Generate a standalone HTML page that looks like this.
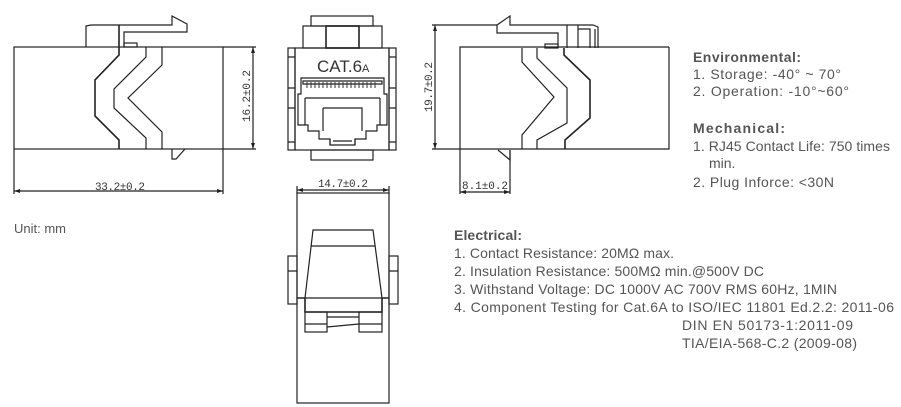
<!DOCTYPE html>
<html><head><meta charset="utf-8"><style>
html,body{margin:0;padding:0;background:#fff;}
svg{display:block;}
.l{fill:none;stroke:#222;stroke-width:1.2;}
.d{font-family:"Liberation Mono",monospace;font-size:11px;fill:#333;}
.x{font-family:"Liberation Sans",sans-serif;font-size:14px;fill:#555;}
.h{font-family:"Liberation Sans",sans-serif;font-size:14px;font-weight:bold;fill:#555;}
</style></head><body>
<svg width="901" height="407" viewBox="0 0 901 407" xmlns="http://www.w3.org/2000/svg">
<!-- LEFT VIEW -->
<g class="l">
<rect x="14" y="47" width="209" height="102"/>
<path d="M86,47 V26 L91,25 H172 V16 L187,24 V32 H124 V47"/>
<path d="M119,25 V47" style="stroke-width:1.6"/>
<rect x="124" y="43" width="13" height="4"/>
<path d="M119,47 V55 L95,80 V116 L119,140 V149" style="stroke-width:1.6"/>
<path d="M146,47 V57 L114,89 V108 L146,138 V149"/>
<path d="M162,47 V65 L128,98 L162,132 V149"/>
<path d="M172,149 V159 H176 L185,149"/>
<path d="M223,47 H256 M223,149 H256 M253,47 V149"/>
<path d="M14,149 V194 M223,149 V194 M14,191 H223"/>
</g>
<path d="M14,191 l6,-2 v4z M223,191 l-6,-2 v4z M253,47 l-2,6 h4z M253,149 l-2,-6 h4z" fill="#222"/>
<text class="d" x="95" y="190" textLength="50">33.2±0.2</text>
<text class="d" transform="translate(250,122) rotate(-90)" textLength="52">16.2±0.2</text>
<text class="x" x="14" y="233" style="font-size:13px">Unit: mm</text>

<!-- FRONT VIEW -->
<g class="l">
<rect x="311" y="16" width="62" height="10"/>
<rect x="303" y="26" width="79" height="22"/>
<rect x="326" y="26" width="33" height="22" style="stroke-width:1.6"/>
<rect x="295" y="48" width="94" height="102"/>
<rect x="288" y="48" width="7" height="102"/>
<rect x="389" y="48" width="7" height="102"/>
<path d="M288,57 H295 M288,88 H295 M288,108 H295 M288,142 H295 M389,57 H396 M389,88 H396 M389,108 H396 M389,142 H396"/>
<rect x="311" y="150" width="62" height="10"/>
<path d="M301,78 H384 V94 H387 V125 H377 V131 H366 V139 H355 V145 H330 V139 H319 V131 H308 V125 H298 V94 H301 Z"/>
<path d="M303,81 H382 V84 H303 Z"/>
<path d="M305,98 H380 M305,98 V125 M380,98 V125"/>
<path d="M323,108 H362 V131 M323,108 V131 M330,139 V145 M355,139 V145 M333,141 H352"/>
<path d="M297,190 H389 M297,186 V194 M389,186 V194"/>
</g>
<g stroke="#333" stroke-width="1">
<path d="M307,82 V88 M311,82 V88 M315,82 V88 M319,82 V88 M323,82 V88 M327,82 V88 M331,82 V88 M335,82 V88 M339,82 V88 M343,82 V88 M347,82 V88 M351,82 V88 M355,82 V88 M359,82 V88 M363,82 V88 M367,82 V88 M371,82 V88 M375,82 V88"/>
</g>
<text x="317" y="72" style="font-family:'Liberation Sans',sans-serif;font-size:17px;fill:#333">CAT.6<tspan style="font-size:11px">A</tspan></text>
<path d="M297,190 l6,-2 v4z M389,190 l-6,-2 v4z" fill="#222"/>
<text class="d" x="318" y="187" textLength="50">14.7±0.2</text>

<!-- BOTTOM VIEW -->
<g class="l">
<rect x="297" y="193" width="92" height="210"/>
<rect x="288" y="256" width="9" height="48"/>
<rect x="389" y="256" width="9" height="48"/>
<path d="M288,271 H297 M389,271 H398"/>
<path d="M313,230 H373 L382,298 H305 Z"/>
<path d="M311,246 H375"/>
<path d="M297,298 H305 V312 H382 V298 H389" style="stroke-width:1.6"/>
<rect x="305" y="312" width="22" height="20"/>
<rect x="359" y="312" width="23" height="20"/>
<path d="M305,324 H327 M359,324 H382 M327,317 H359 M327,327 L359,324"/>
</g>

<!-- RIGHT VIEW -->
<g class="l">
<path d="M669,47 H460 V149 H669 V47"/>
<path d="M497,25 L510,16 V25 H567 V48 M497,25 V33 H558 V48"/>
<path d="M567,25 H593 L598,27 V48 M578,25 V48 M578,29 H590 V48 M595,29 V48"/>
<rect x="545" y="44" width="13" height="4"/>
<path d="M522,48 V62 L554,97 L522,135 V149"/>
<path d="M537,48 V58 L567,88 V123 L537,140 V149"/>
<path d="M564,48 V55 L590,80 V118 L565,140 V149" style="stroke-width:1.6"/>
<path d="M498,150 L510,160 V150"/>
<path d="M432,25 H497 M432,149 H460 M435,25 V149"/>
<path d="M460,149 V194 M510,150 V194 M460,192 H510"/>
</g>
<path d="M435,25 l-2,6 h4z M435,149 l-2,-6 h4z M460,192 l6,-2 v4z M510,192 l-6,-2 v4z" fill="#222"/>
<text class="d" transform="translate(432,112) rotate(-90)" textLength="50">19.7±0.2</text>
<text class="d" x="462" y="189" textLength="46">8.1±0.2</text>

<!-- TEXT -->
<text class="h" x="693" y="62" textLength="108">Environmental:</text>
<text class="x" x="693" y="79" textLength="148">1. Storage: -40° ~ 70°</text>
<text class="x" x="693" y="96" textLength="156">2. Operation: -10°~60°</text>
<text class="h" x="693" y="133" textLength="92">Mechanical:</text>
<text class="x" x="693" y="151" textLength="197">1. RJ45 Contact Life: 750 times</text>
<text class="x" x="709" y="168">min.</text>
<text class="x" x="693" y="187" textLength="141">2. Plug Inforce: &lt;30N</text>
<text class="h" x="454" y="240" textLength="68">Electrical:</text>
<text class="x" x="454" y="258" textLength="220">1. Contact Resistance: 20MΩ max.</text>
<text class="x" x="454" y="276" textLength="310">2. Insulation Resistance: 500MΩ min.@500V DC</text>
<text class="x" x="454" y="294" textLength="383">3. Withstand Voltage: DC 1000V AC 700V RMS 60Hz, 1MIN</text>
<text class="x" x="454" y="312" textLength="440">4. Component Testing for Cat.6A to ISO/IEC 11801 Ed.2.2: 2011-06</text>
<text class="x" x="682" y="330" textLength="171">DIN EN 50173-1:2011-09</text>
<text class="x" x="682" y="348" textLength="175">TIA/EIA-568-C.2 (2009-08)</text>
</svg>
</body></html>
